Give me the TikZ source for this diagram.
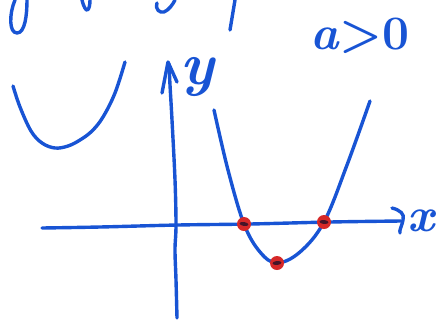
\documentclass[tikz,border=0pt]{standalone}
\usepackage{tikz}
\usetikzlibrary{shapes.geometric}
\definecolor{handblue}{RGB}{24,84,212}
\definecolor{dotred}{RGB}{214,40,40}
\definecolor{dotdark}{RGB}{70,20,40}
\tikzset{
  pen/.style={draw=handblue, line width=3.4pt, line cap=round, line join=round},
  reddot/.style={circle, fill=dotred, minimum size=14pt, inner sep=0pt},
  darkcore/.style={ellipse, fill=dotdark, minimum width=9pt, minimum height=4pt, inner sep=0pt},
  lbl/.style={text=handblue, inner sep=0pt, font=\bfseries}
}
\begin{document}
\begin{tikzpicture}[x=1pt,y=-1pt]
\useasboundingbox (0,0) rectangle (436,325);
% cut-off handwriting at the top
\draw[pen] (15,0) .. controls (9,14) and (9,33) .. (17,33) .. controls (25,33) and (27,15) .. (27,0);
\draw[pen] (82,0) .. controls (84,8) and (86,10) .. (87,10) .. controls (89,10) and (90,5) .. (90,0);
\draw[pen] (157,3) .. controls (155,10) and (160,13) .. (164,12) .. controls (169,10) and (173,4) .. (175,0);
\draw[pen] (235,0) -- (230,30);
% label a>0
\node[lbl] (cond) at (360,36) {\fontsize{48}{48}\selectfont\itshape a\upshape{}>0};
% small parabola on the left
\draw[pen] plot[smooth, tension=0.6] coordinates {(13,86) (20,107) (31,131) (42,143) (55,148) (68,146) (80,140) (92,131) (103,117) (115,93) (125,62)};
% axes
\coordinate (ytop) at (169,64);
\coordinate (ybot) at (177,318);
\coordinate (xleft) at (42,228);
\coordinate (xright) at (401,221);
\draw[pen] plot[smooth, tension=0.6] coordinates {(177,318) (176,280) (175,250) (176,225) (175,180) (172,120) (170,85) (169,64)};
\draw[pen] (162,93) -- (168,62) -- (177,82);
\draw[pen] plot[smooth, tension=0.6] coordinates {(42,228) (100,227) (178,225) (250,224) (330,222) (401,221)};
\draw[pen] (392,208) .. controls (400,210) and (405,214) .. (403,220) .. controls (402,226) and (399,230) .. (400,233);
% axis labels
\node[lbl] (ylab) at (197,77) {\fontsize{60}{60}\selectfont\itshape y};
\node[lbl] (xlab) at (421,221) {\fontsize{48}{48}\selectfont\itshape x};
% main parabola
\draw[pen] plot[smooth, tension=0.6] coordinates {(214,110) (228,170) (244,224) (260,252) (277,263) (300,252) (324,222) (347,165) (370,101)};
% red points
\node[reddot] (p1) at (244,224) {};
\node[reddot] (p2) at (277,263) {};
\node[reddot] (p3) at (324,222) {};
\node[darkcore, rotate=-10] at (p1) {};
\node[darkcore, rotate=5] at (p2) {};
\node[darkcore, rotate=-5] at (p3) {};
\end{tikzpicture}
\end{document}
